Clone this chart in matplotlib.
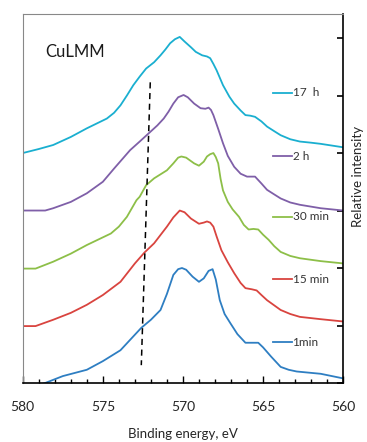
import matplotlib
matplotlib.use("Agg")
import matplotlib.pyplot as plt
from matplotlib.ticker import MultipleLocator

plt.rcParams['font.family'] = ['Lato', 'DejaVu Sans']

# binding energy (eV) and stacked relative intensity for each sputtering time
e_1min = [580.0, 578.6, 577.5, 576.0, 575.0, 573.9, 573.2, 572.6, 572.0, 571.4, 571.0, 570.6,
          570.3, 570.06, 569.8, 569.4, 569.0, 568.7, 568.4, 568.15, 567.95, 567.7, 567.4,
          567.04, 566.6, 566.1, 565.7, 565.3, 565.0, 564.5, 563.9, 563.4, 562.9, 561.4, 560.0]
i_1min = [-0.12, 0.0, 0.12, 0.23, 0.38, 0.57, 0.78, 0.96, 1.1, 1.27, 1.55, 1.88,
          1.98, 2.0, 1.97, 1.85, 1.76, 1.82, 1.95, 1.98, 1.8, 1.44, 1.2,
          1.04, 0.85, 0.70, 0.70, 0.70, 0.62, 0.46, 0.28, 0.23, 0.20, 0.16, 0.08]

e_15min = [580.0, 579.2, 578.1, 577.0, 576.0, 575.0, 573.9, 573.0, 572.4, 571.8, 571.0, 570.6,
           570.2, 569.9, 569.5, 569.0, 568.7, 568.5, 568.3, 568.1, 567.9, 567.6, 567.2, 566.8,
           566.4, 566.1, 565.7, 565.4, 565.1, 564.75, 564.3, 563.9, 563.3, 562.7, 561.4, 560.0]
i_15min = [0.99, 0.99, 1.1, 1.22, 1.36, 1.53, 1.76, 2.08, 2.27, 2.43, 2.72, 2.88,
           3.0, 2.97, 2.86, 2.77, 2.79, 2.81, 2.79, 2.72, 2.55, 2.31, 2.1, 1.91,
           1.74, 1.65, 1.63, 1.61, 1.53, 1.44, 1.35, 1.27, 1.2, 1.15, 1.11, 1.07]

e_30min = [580.0, 579.2, 578.1, 577.0, 576.0, 574.5, 574.0, 573.5, 572.9, 572.7, 572.3, 571.8,
           571.4, 571.0, 570.6, 570.3, 570.1, 569.8, 569.6, 569.3, 569.0, 568.7, 568.5, 568.3,
           568.1, 567.95, 567.8, 567.65, 567.5, 567.2, 566.9, 566.5, 566.2, 565.9, 565.6,
           565.3, 565.0, 564.65, 564.3, 563.9, 563.3, 562.7, 561.4, 560.0]
i_30min = [1.99, 1.99, 2.11, 2.25, 2.4, 2.6, 2.72, 2.89, 3.18, 3.24, 3.44, 3.56,
           3.63, 3.70, 3.82, 3.92, 3.94, 3.92, 3.88, 3.82, 3.78, 3.85, 3.94, 3.98,
           4.0, 3.93, 3.82, 3.55, 3.35, 3.15, 3.02, 2.89, 2.75, 2.67, 2.68,
           2.67, 2.58, 2.49, 2.38, 2.28, 2.21, 2.17, 2.12, 2.08]

e_2h = [580.0, 578.6, 578.1, 577.0, 576.0, 575.0, 574.3, 573.3, 572.7, 572.15, 571.6, 571.2,
        570.9, 570.6, 570.3, 569.96, 569.7, 569.3, 568.9, 568.6, 568.4, 568.25, 568.1, 567.8,
        567.5, 567.2, 566.8, 566.4, 566.0, 565.5, 565.1, 564.75, 564.3, 563.9, 563.3, 562.7,
        561.4, 560.0]
i_2h = [3.0, 3.0, 3.04, 3.15, 3.3, 3.5, 3.73, 4.05, 4.2, 4.34, 4.48, 4.6,
        4.72, 4.86, 4.97, 5.01, 4.97, 4.86, 4.78, 4.77, 4.79, 4.75, 4.66, 4.42,
        4.17, 3.95, 3.76, 3.64, 3.59, 3.59, 3.47, 3.36, 3.28, 3.21, 3.14, 3.1,
        3.04, 3.0]

e_17h = [580.0, 579.0, 578.1, 577.0, 576.0, 574.75, 574.3, 573.9, 573.5, 573.1, 572.7, 572.3,
         571.8, 571.4, 571.1, 570.8, 570.5, 570.2, 569.9, 569.5, 569.2, 568.8, 568.5, 568.3,
         568.1, 567.9, 567.5, 567.1, 566.8, 566.4, 566.1, 565.8, 565.5, 565.1, 564.75, 564.3,
         563.9, 563.3, 562.7, 562.0, 561.4, 560.7, 560.0]
i_17h = [4.0, 4.07, 4.14, 4.28, 4.43, 4.6, 4.7, 4.83, 5.0, 5.18, 5.33, 5.47,
         5.58, 5.7, 5.8, 5.91, 5.98, 6.02, 5.94, 5.84, 5.76, 5.7, 5.68, 5.65,
         5.55, 5.44, 5.18, 4.98, 4.86, 4.74, 4.66, 4.65, 4.63, 4.55, 4.46, 4.38,
         4.31, 4.24, 4.2, 4.18, 4.16, 4.13, 4.1]

labels = ["1min", "15 min", "30 min", "2 h", "17  h"]
colors = ["#2e7ec2", "#d9443f", "#8dbf48", "#7f5fa8", "#1aafd0"]

# guide line through the low-energy shoulder
dash_e = [572.04, 572.6]
dash_i = [5.23, 0.31]

fig = plt.figure(figsize=(3.67, 4.42), dpi=100)
ax = fig.add_axes([0.062, 0.1335, 0.873, 0.835])

series = [(e_1min, i_1min), (e_15min, i_15min), (e_30min, i_30min), (e_2h, i_2h), (e_17h, i_17h)]
for (e, i), c in zip(series, colors):
    ax.plot(e, i, color=c, lw=1.3, solid_joinstyle="round")

ax.plot(dash_e, dash_i, color="black", lw=1.1, ls=(0, (4, 3)))

# hand-placed legend entries next to each trace
leg_y = [0.110, 0.281, 0.451, 0.615, 0.787]
for y, lab, c in zip(leg_y, labels, colors):
    ax.plot([0.781, 0.840], [y, y], color=c, lw=1.3, transform=ax.transAxes)
    ax.text(0.842, y, lab, transform=ax.transAxes, va="center", ha="left",
            fontsize=8.5, color="#333333")

ax.text(0.07, 0.896, "CuLMM", transform=ax.transAxes, va="center", ha="left",
        fontsize=12, color="#1a1a1a")

ax.set_xlim(580, 560)
ax.set_ylim(0, 6.42)
ax.xaxis.set_major_locator(MultipleLocator(5))
ax.xaxis.set_minor_locator(MultipleLocator(1))
ax.tick_params(axis="x", which="major", direction="in", length=5, width=1, pad=13,
               labelsize=10, labelcolor="#262626")
ax.tick_params(axis="x", which="minor", direction="in", length=3, width=1)

ax.yaxis.set_major_locator(MultipleLocator(1))
ax.tick_params(axis="y", which="both", left=False, right=True, labelleft=False,
               labelright=False, direction="in", length=4, width=1.2)

ax.spines["left"].set_color("#888888")
ax.spines["top"].set_color("#888888")
ax.spines["right"].set_linewidth(1.2)
ax.spines["bottom"].set_linewidth(1.2)

fig.text(0.498, 0.018, "Binding energy, eV", ha="center", va="center",
         fontsize=9.5, color="#262626")
fig.text(0.975, 0.60, "Relative intensity", ha="center", va="center",
         rotation=90, fontsize=9.5, color="#262626")

fig.savefig("out.png", dpi=100)
